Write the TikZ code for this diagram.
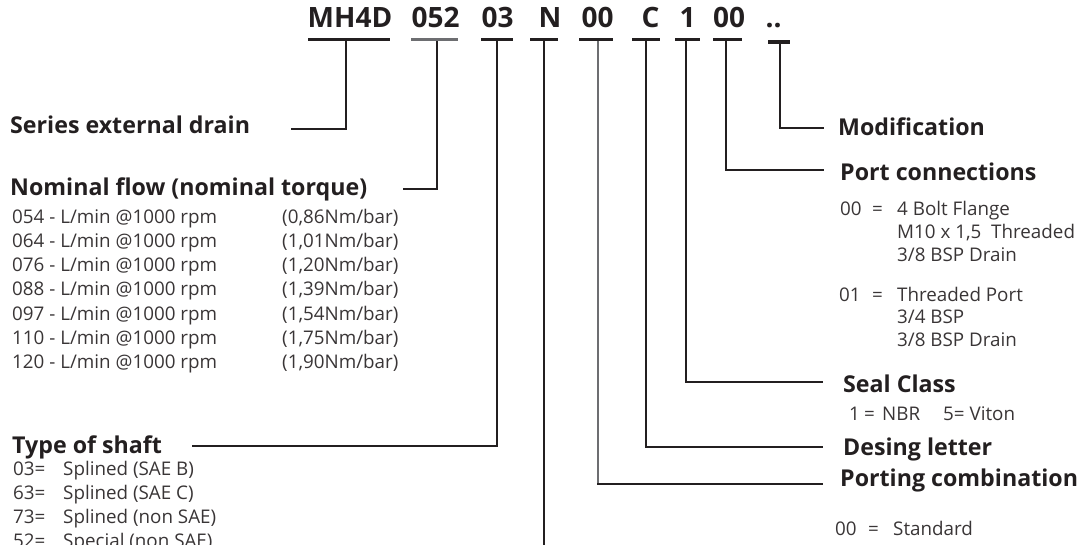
\documentclass[tikz,border=0pt]{standalone}
\usepackage{fontspec}
\setmainfont{Open Sans}
\definecolor{ink}{HTML}{231F20}
\definecolor{greybar}{HTML}{6D6E71}
\tikzset{
  code/.style={font=\bfseries\fontsize{28}{28}\selectfont, text=ink, inner sep=0pt, anchor=base},
  head/.style={font=\bfseries\fontsize{23.2}{23.2}\selectfont, text=ink, inner sep=0pt, anchor=base west},
  item/.style={font=\fontsize{18.8}{18.8}\selectfont, text=ink!90, inner sep=0pt, anchor=base west},
  bar/.style={line width=3.2pt, draw=ink},
  lead/.style={line width=2.4pt, draw=ink},
  greylead/.style={line width=1.5pt, draw=greybar}
}
\begin{document}
\begin{tikzpicture}[x=1pt, y=-1pt]
\useasboundingbox (0,0) rectangle (1083,544);

\node[code] (cser) at (350,27) {MH4D};
\node[code] (cflo) at (435.5,27) {052};
\node[code] (csha) at (497.5,27) {03};
\node[code] (cdra) at (550,27) {N};
\node[code] (cpco) at (597.5,27) {00};
\node[code] (cdes) at (650.5,27) {C};
\node[code] (csea) at (687.5,27) {1};
\node[code] (cpor) at (729,27) {00};
\node[code] (cmod) at (773.5,27) {..};

\draw[bar] (308,39.5) -- (390,39.5);
\draw[bar, draw=greybar] (411,39.5) -- (458,39.5);
\draw[bar] (481,39.5) -- (513,39.5);
\draw[bar] (530,39.5) -- (558,39.5);
\draw[bar] (579,39.5) -- (613,39.5);
\draw[bar] (632,39.5) -- (660,39.5);
\draw[bar] (675,39.5) -- (700,39.5);
\draw[bar] (713,39.5) -- (742,39.5);
\draw[bar] (768,42) -- (790,42);

\coordinate (bser) at (346,41);
\coordinate (bflo) at (437,41);
\coordinate (bsha) at (497,41);
\coordinate (bdra) at (544,41);
\coordinate (bpco) at (598,41);
\coordinate (bdes) at (646,41);
\coordinate (bsea) at (686,41);
\coordinate (bpor) at (726,41);
\coordinate (bmod) at (780,43);

\coordinate (eser) at (291,129);
\coordinate (eflo) at (403,189);
\coordinate (esha) at (192,446);
\coordinate (edra) at (544,550);
\coordinate (kpco) at (598,484);
\coordinate (epco) at (823,484);
\coordinate (edes) at (823,447);
\coordinate (esea) at (823,382);
\coordinate (epor) at (824,170);
\coordinate (emod) at (824,128);

\draw[lead] (bser) |- (eser);
\draw[lead] (bflo) |- (eflo);
\draw[lead] (bsha) |- (esha);
\draw[lead] (bdra) -- (edra);
\draw[greylead] (bpco) -- (kpco);
\draw[lead] ([xshift=-0.75pt]kpco) -- (epco);
\draw[lead] (bdes) |- (edes);
\draw[lead] (bsea) |- (esea);
\draw[lead] (bpor) |- (epor);
\draw[lead] (bmod) |- (emod);

\node[head] (hser) at (10,133) {Series external drain};
\node[head] (hflo) at (10,195) {Nominal flow (nominal torque)};
\node[item] at (12,223) {054 - L/min @1000 rpm};
\node[item] at (12,247.3) {064 - L/min @1000 rpm};
\node[item] at (12,271.6) {076 - L/min @1000 rpm};
\node[item] at (12,295.9) {088 - L/min @1000 rpm};
\node[item] at (12,320.2) {097 - L/min @1000 rpm};
\node[item] at (12,344.5) {110 - L/min @1000 rpm};
\node[item] at (12,368.8) {120 - L/min @1000 rpm};
\node[item] at (282,223) {(0,86Nm/bar)};
\node[item] at (282,247.3) {(1,01Nm/bar)};
\node[item] at (282,271.6) {(1,20Nm/bar)};
\node[item] at (282,295.9) {(1,39Nm/bar)};
\node[item] at (282,320.2) {(1,54Nm/bar)};
\node[item] at (282,344.5) {(1,75Nm/bar)};
\node[item] at (282,368.8) {(1,90Nm/bar)};

\node[head] (hsha) at (12,453) {Type of shaft};
\node[item] at (13,475) {03=};
\node[item] at (63,475) {Splined (SAE B)};
\node[item] at (13,499) {63=};
\node[item] at (63,499) {Splined (SAE C)};
\node[item] at (13,523) {73=};
\node[item] at (63,523) {Splined (non SAE)};
\node[item] at (13,547) {52=};
\node[item] at (63,547) {Special (non SAE)};

\node[head] (hmod) at (838,135) {Modification};
\node[head] (hpor) at (840,180) {Port connections};
\node[item] at (840,215) {00};
\node[item] at (872,215) {=};
\node[item] at (897,215) {4 Bolt Flange};
\node[item] at (897,238) {M10 x 1,5\ \ Threaded};
\node[item] at (897,261) {3/8 BSP Drain};
\node[item] at (839,301) {01};
\node[item] at (872,301) {=};
\node[item] at (897,301) {Threaded Port};
\node[item] at (897,323) {3/4 BSP};
\node[item] at (897,346) {3/8 BSP Drain};

\node[head] (hsea) at (843,392) {Seal Class};
\node[item] at (849,420) {1};
\node[item] at (864,420) {=};
\node[item] at (882,420) {NBR};
\node[item] at (943,420) {5= Viton};
\node[head] (hdes) at (843,455) {Desing letter};
\node[head] (hpco) at (840,486) {Porting combination};
\node[item] at (835,535) {00};
\node[item] at (868,535) {=};
\node[item] at (893,535) {Standard};
\end{tikzpicture}
\end{document}
